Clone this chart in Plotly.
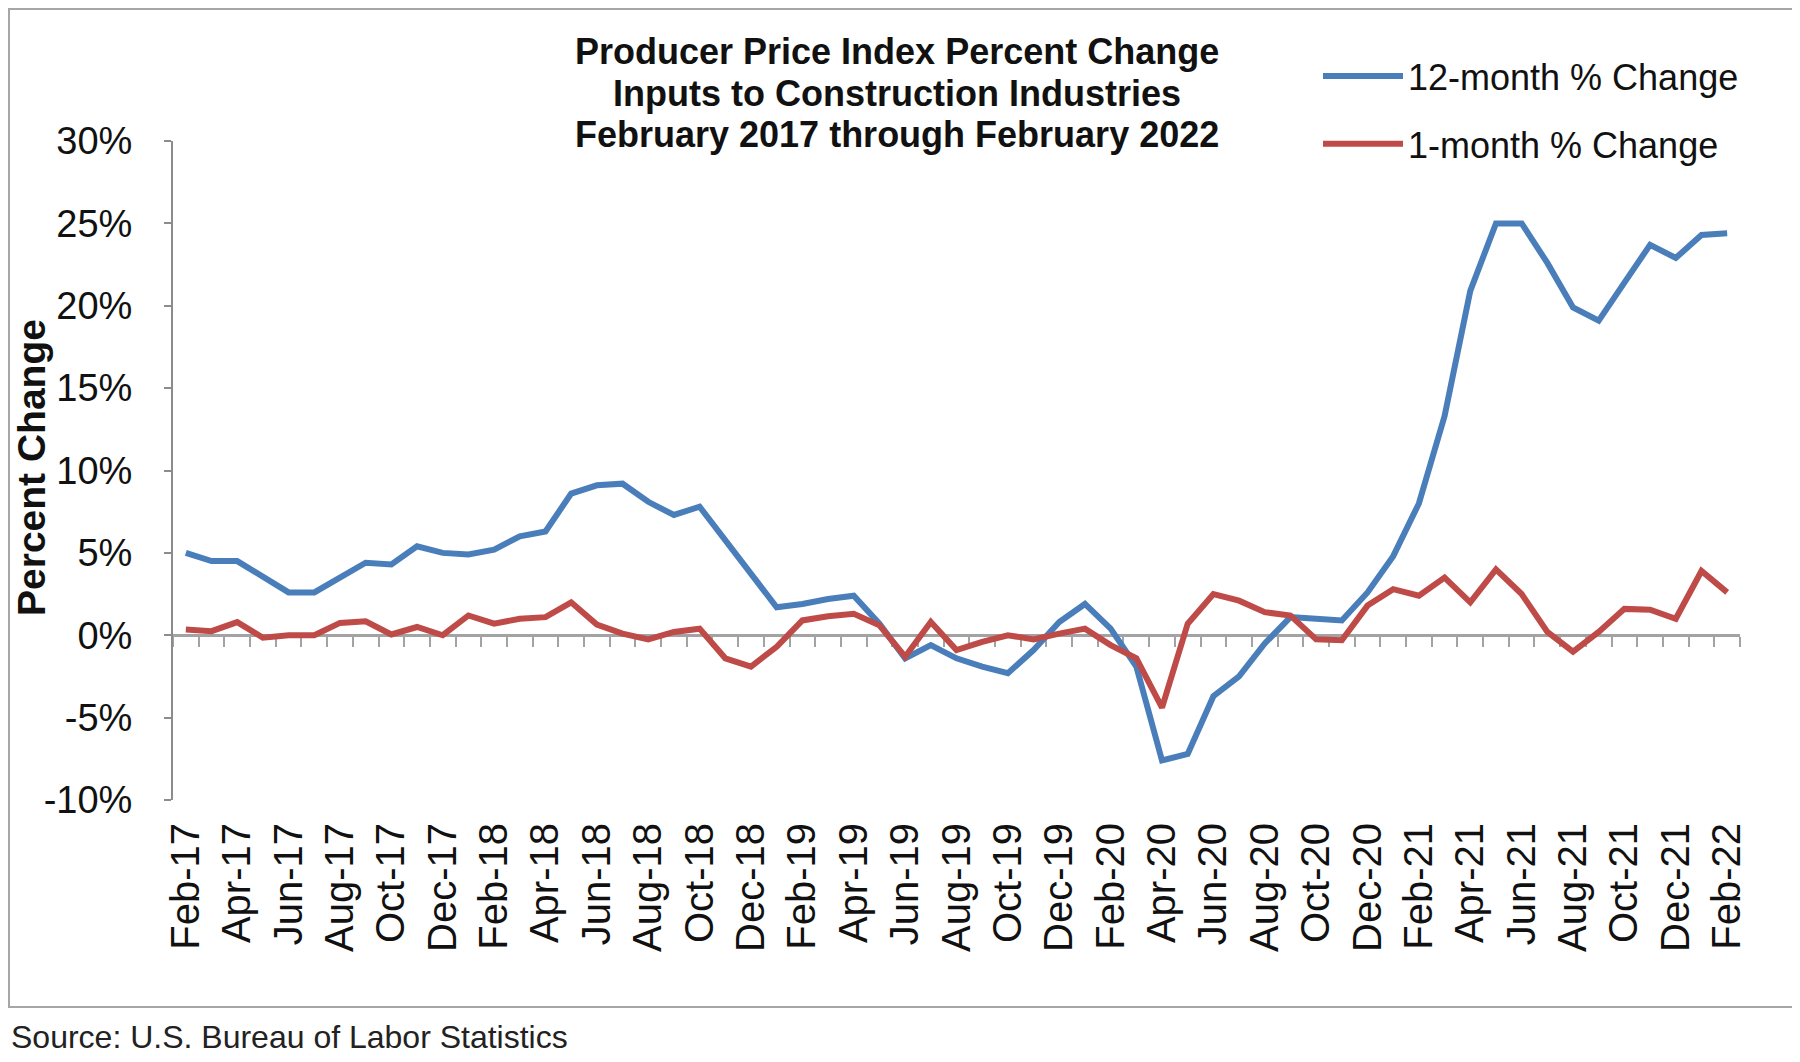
import plotly.graph_objects as go

months = [
    "Feb-17", "Mar-17", "Apr-17", "May-17", "Jun-17", "Jul-17", "Aug-17", "Sep-17", "Oct-17", "Nov-17", "Dec-17",
    "Jan-18", "Feb-18", "Mar-18", "Apr-18", "May-18", "Jun-18", "Jul-18", "Aug-18", "Sep-18", "Oct-18", "Nov-18", "Dec-18",
    "Jan-19", "Feb-19", "Mar-19", "Apr-19", "May-19", "Jun-19", "Jul-19", "Aug-19", "Sep-19", "Oct-19", "Nov-19", "Dec-19",
    "Jan-20", "Feb-20", "Mar-20", "Apr-20", "May-20", "Jun-20", "Jul-20", "Aug-20", "Sep-20", "Oct-20", "Nov-20", "Dec-20",
    "Jan-21", "Feb-21", "Mar-21", "Apr-21", "May-21", "Jun-21", "Jul-21", "Aug-21", "Sep-21", "Oct-21", "Nov-21", "Dec-21",
    "Jan-22", "Feb-22",
]

twelve_month = [
    5.0, 4.5, 4.5, 3.5, 2.6, 2.6, 3.5, 4.4, 4.3, 5.4, 5.0,
    4.9, 5.2, 6.0, 6.3, 8.6, 9.1, 9.2, 8.1, 7.3, 7.8, 5.8, 3.7,
    1.7, 1.9, 2.2, 2.4, 0.7, -1.4, -0.6, -1.4, -1.9, -2.3, -0.9, 0.8,
    1.9, 0.4, -1.9, -7.6, -7.2, -3.7, -2.5, -0.5, 1.1, 1.0, 0.9, 2.6,
    4.8, 8.0, 13.3, 20.9, 25.0, 25.0, 22.6, 19.9, 19.1, 21.4, 23.7, 22.9,
    24.3, 24.4,
]

one_month = [
    0.35, 0.25, 0.8, -0.15, 0.0, 0.0, 0.75, 0.85, 0.05, 0.5, 0.0,
    1.2, 0.7, 1.0, 1.1, 2.0, 0.65, 0.1, -0.25, 0.2, 0.4, -1.4, -1.9,
    -0.7, 0.9, 1.15, 1.3, 0.6, -1.3, 0.8, -0.9, -0.4, 0.0, -0.25, 0.1,
    0.4, -0.6, -1.4, -4.4, 0.7, 2.5, 2.1, 1.4, 1.2, -0.25, -0.3, 1.8,
    2.8, 2.4, 3.5, 2.0, 4.0, 2.5, 0.2, -1.0, 0.2, 1.6, 1.55, 1.0,
    3.9, 2.6,
]

y_ticks = [-10, -5, 0, 5, 10, 15, 20, 25, 30]
y_tick_text = ["-10%", "-5%", "0%", "5%", "10%", "15%", "20%", "25%", "30%"]
x_label_months = months[::2]

title_lines = [
    "Producer Price Index Percent Change",
    "Inputs to Construction Industries",
    "February 2017 through February 2022",
]

FONT = "Liberation Sans, Arial, Helvetica, sans-serif"
BLUE = "#4a7ebb"
RED = "#be4b48"
AXIS_GRAY = "#8c8c8c"
TEXT = "#111111"

# the page body adds an 8px offset; size the figure to compensate
OFF = 8
W, H = 1800 - OFF, 1062 - OFF
ML, MT = 165, 133
MR = W - 1732
MB = H - 792
PW = W - ML - MR
PH = H - MT - MB


def px_x(px):
    return (px - OFF - ML) / PW


def px_y(py):
    return (H - MB - (py - OFF)) / PH


fig = go.Figure()
fig.add_trace(go.Scatter(
    x=months, y=twelve_month, mode="lines", name="12-month % Change",
    line=dict(color=BLUE, width=6), legendgroup="a",
))
fig.add_trace(go.Scatter(
    x=months, y=one_month, mode="lines", name="1-month % Change",
    line=dict(color=RED, width=6), legendgroup="b",
))
# helper trace for the zero-level axis carrying the monthly tick marks
fig.add_trace(go.Scatter(x=[], y=[], xaxis="x2", showlegend=False, hoverinfo="skip"))

n = len(months)
fig.update_layout(
    width=W, height=H, autosize=False,
    margin=dict(l=ML, r=MR, t=MT, b=MB),
    paper_bgcolor="white", plot_bgcolor="white",
    font=dict(family=FONT, color=TEXT),
    xaxis=dict(
        type="category", range=[-0.5, n - 0.5],
        tickmode="array", tickvals=x_label_months, ticktext=x_label_months,
        tickangle=-90, tickfont=dict(size=40, family=FONT, color=TEXT),
        showline=False, ticks="", showgrid=False, zeroline=False,
        ticklabelstandoff=14,
    ),
    xaxis2=dict(
        overlaying="x", anchor="free", position=0.25,
        range=[-0.5, n - 0.5], side="bottom",
        tickmode="linear", tick0=-0.5, dtick=1,
        ticks="outside", ticklen=10, tickwidth=2, tickcolor="#a3a3a3",
        showticklabels=False, showline=True, linecolor="#a3a3a3", linewidth=3,
        showgrid=False, zeroline=False, layer="below traces",
    ),
    yaxis=dict(
        range=[-10, 30], tickmode="array", tickvals=y_ticks, ticktext=y_tick_text,
        tickfont=dict(size=38, family=FONT, color=TEXT),
        showline=True, linecolor=AXIS_GRAY, linewidth=2,
        ticks="outside", ticklen=7, tickwidth=2, tickcolor=AXIS_GRAY,
        showgrid=False, zeroline=False, ticklabelstandoff=24,
    ),
    legend=dict(
        x=px_x(1318), xanchor="left", y=px_y(46), yanchor="top",
        font=dict(size=36, family=FONT, color=TEXT),
        bgcolor="rgba(0,0,0,0)", itemwidth=80, tracegroupgap=18,
        traceorder="grouped",
    ),
    showlegend=True,
)

for line, yc in zip(title_lines, [52, 93, 134]):
    fig.add_annotation(
        text="<b>" + line + "</b>", xref="paper", yref="paper",
        x=px_x(897), y=px_y(yc), xanchor="center", yanchor="middle",
        showarrow=False, font=dict(size=36, family=FONT, color=TEXT),
    )

fig.add_annotation(
    text="<b>Percent Change</b>", textangle=-90,
    xref="paper", yref="paper", x=px_x(31), y=px_y(468),
    xanchor="center", yanchor="middle", showarrow=False,
    font=dict(size=39, family=FONT, color=TEXT),
)
fig.add_annotation(
    text="Source: U.S. Bureau of Labor Statistics",
    xref="paper", yref="paper", x=px_x(9), y=px_y(1037),
    xanchor="left", yanchor="middle", showarrow=False,
    font=dict(size=32, family=FONT, color="#222222"),
)
fig.add_shape(
    type="rect", xref="paper", yref="paper",
    x0=px_x(9), x1=px_x(1797), y0=px_y(1007), y1=px_y(9),
    line=dict(color="#a6a6a6", width=2), layer="below",
)

fig.write_html("out.html")
